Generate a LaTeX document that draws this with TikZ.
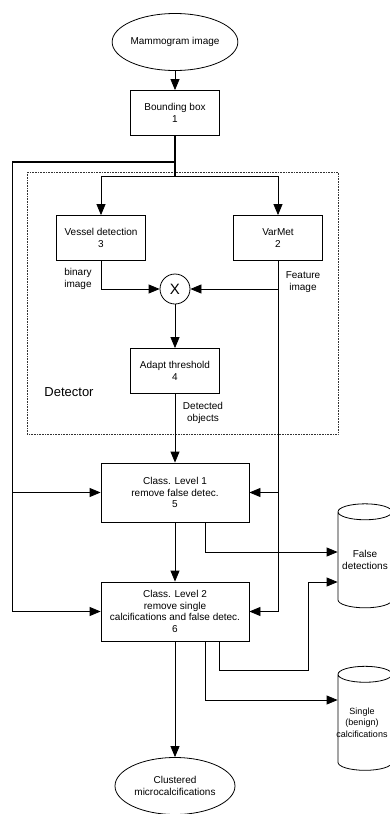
\documentclass[tikz,border=0pt]{standalone}
\usepackage{fontspec}
\setmainfont{Liberation Sans}
\usepackage{tikz}
\usetikzlibrary{positioning,calc,arrows.meta,shapes.geometric}
\tikzstyle{line} = [draw,line width=0.8pt]
\tikzstyle{arr} = [draw,line width=0.8pt,-{Triangle[length=11pt,width=9pt]}]

\begin{document}
\begin{tikzpicture}[x=1pt,y=-1pt,font=\fontsize{10}{11.5}\selectfont]
            \tikzstyle{process} = [draw, line width=0.8pt, rectangle, align=center, inner sep=0pt]
            \tikzstyle{terminal} = [draw, line width=0.8pt, ellipse, align=center, minimum width=120pt, minimum height=57pt, inner sep=0pt]
            \tikzstyle{store} = [draw, line width=0.8pt, cylinder, shape border rotate=90, aspect=0.35, align=center, minimum width=54pt, minimum height=104pt, inner sep=0pt]
            \tikzstyle{note} = [align=center, inner sep=0pt]
          \useasboundingbox (0,0) rectangle (389,814);
          % detector frame
          \draw[densely dotted, line width=0.6pt, black!80] (27,172) rectangle (338,434);
          \node[note, font=\fontsize{13}{15}\selectfont] (detlabel) at (69,392) {Detector};
          % blocks
          \node[terminal] (mammo) at (175,42) {Mammogram image};
          \node[process, minimum width=89pt, minimum height=45pt] (bbox) at (175,113) {Bounding box\\1};
          \node[process, minimum width=89pt, minimum height=45pt] (vessel) at (101,238) {Vessel detection\\3};
          \node[process, minimum width=89pt, minimum height=45pt] (varmet) at (278,238) {VarMet\\2};
          \node[draw, line width=0.8pt, circle, minimum size=30pt, inner sep=0pt, font=\fontsize{15}{15}\selectfont] (mult) at (175,289) {X};
          \node[process, minimum width=89pt, minimum height=45pt] (adapt) at (175,371) {Adapt threshold\\4};
          \node[process, minimum width=148pt, minimum height=59pt] (class1) at (175,492.5) {Class. Level 1\\remove false detec.\\5};
          \node[process, minimum width=148pt, minimum height=59pt] (class2) at (175,611.5) {Class. Level 2\\remove single\\calcifications and false detec.\\6};
          \node[terminal] (clustered) at (175,786) {Clustered\\microcalcifications};
          \node[store] (falsedet) at (365,560) {False\\detections};
          \node[store] (single) at (365,722.5) {\phantom{False}\\\phantom{detections}};
          \node[note, font=\fontsize{9}{11.5}\selectfont] (singletext) at (362,722.5) {Single\\(benign)\\calcifications};
          % labels
          \node[note] (binlabel) at (78,279) {binary\\image};
          \node[note] (featlabel) at (303,282) {Feature\\image};
          \node[note] (detobj) at (203,413) {Detected\\objects};
          % helper points
          \coordinate (split1) at (175,162);
          \coordinate (split2) at (175,176);
          \coordinate (leftline) at (12,162);
          \coordinate (fd1) at (205,552);
          \coordinate (fd2) at (219,670);
          \coordinate (fd3) at (308,582);
          \coordinate (sg1) at (205,700);
          % connectors
          \path[arr] (mammo) -- (bbox);
          \path[draw, line width=2.2pt] (bbox.south) -- (split2);
          \path[draw, line width=1.6pt] (split1) -- (leftline);
          \path[arr] (split2) -| (vessel.north);
          \path[arr] (split2) -| (varmet.north);
          \path[line] (leftline) -- (leftline |- class2.west);
          \path[arr] (leftline |- class1.west) -- (class1.west);
          \path[arr] (leftline |- class2.west) -- (class2.west);
          \path[arr] (vessel.south) |- (mult.west);
          \path[line] (varmet.south) -- (varmet.south |- class2.east);
          \path[arr] (varmet.south |- mult.east) -- (mult.east);
          \path[arr] (varmet.south |- class1.east) -- (class1.east);
          \path[arr] (varmet.south |- class2.east) -- (class2.east);
          \path[arr] (mult) -- (adapt);
          \path[arr] (adapt) -- (class1);
          \path[arr] (class1) -- (class2);
          \path[arr] (class2) -- (clustered);
          \path[arr] (class1.south -| fd1) -- (fd1) -- (fd1 -| falsedet.west);
          \path[arr] (class2.south -| fd2) -- (fd2) -| (fd3) -- (fd3 -| falsedet.west);
          \path[arr] (class2.south -| sg1) -- (sg1) -- (sg1 -| single.west);
        \end{tikzpicture}
\end{document}
